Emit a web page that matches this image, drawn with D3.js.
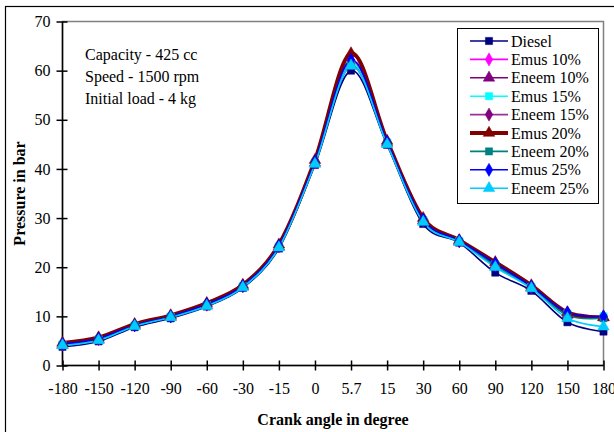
<!DOCTYPE html>
<html>
<head>
<meta charset="utf-8">
<script src="https://cdn.jsdelivr.net/npm/d3@7"></script>
<style>
  body { margin: 0; background: #fff; }
  text { font-family: "Liberation Serif", "Times New Roman", serif; }
</style>
</head>
<body>
<div id="chart"></div>
<script>
// crank angles (categorical axis)
const angles = ["-180", "-150", "-120", "-90", "-60", "-30", "-15", "0", "5.7", "15", "30", "60", "90", "120", "150", "180"];
const yTicks = [0, 10, 20, 30, 40, 50, 60, 70];

// pressure in bar
const diesel  = [3.8, 4.9, 7.8, 9.6, 12.0, 15.8, 23.8, 40.8, 60.0, 44.9, 28.8, 25.0, 18.9, 15.2, 8.8, 6.9];
const emus10  = [4.3, 5.4, 8.2, 10.0, 12.4, 16.2, 24.3, 41.3, 62.0, 45.4, 29.6, 25.3, 20.5, 16.0, 10.5, 9.9];
const eneem10 = [4.2, 5.3, 8.1, 9.9, 12.3, 16.1, 24.2, 41.2, 61.0, 45.3, 29.5, 25.2, 20.4, 15.9, 10.3, 9.8];
const emus15  = [4.2, 5.3, 8.1, 9.9, 12.3, 16.1, 24.2, 41.3, 61.5, 45.4, 29.6, 25.3, 20.6, 16.0, 10.6, 10.0];
const eneem15 = [4.3, 5.4, 8.2, 10.0, 12.4, 16.2, 24.3, 41.4, 62.0, 45.4, 29.6, 25.3, 20.5, 16.0, 10.4, 9.9];
const emus20  = [4.6, 5.7, 8.4, 10.2, 12.7, 16.4, 24.6, 41.8, 63.5, 45.7, 30.0, 25.5, 21.0, 16.3, 10.8, 9.8];
const eneem20 = [4.2, 5.3, 8.1, 9.9, 12.2, 16.0, 24.1, 41.1, 61.0, 45.2, 29.4, 25.2, 20.3, 15.8, 10.2, 9.6];
const emus25  = [4.4, 5.5, 8.2, 10.0, 12.5, 16.2, 24.4, 41.5, 62.2, 45.5, 29.7, 25.4, 20.8, 16.1, 10.8, 10.0];
const eneem25 = [4.1, 5.1, 8.0, 9.8, 12.1, 15.9, 24.0, 41.0, 61.0, 45.0, 29.2, 25.1, 20.0, 15.7, 9.6, 7.9];

const seriesNames = ["Diesel", "Emus 10%", "Eneem 10%", "Emus 15%", "Eneem 15%", "Emus 20%", "Eneem 20%", "Emus 25%", "Eneem 25%"];
const seriesValues = [diesel, emus10, eneem10, emus15, eneem15, emus20, eneem20, emus25, eneem25];
const lineColors = ["#000080", "#ff00ff", "#800080", "#00ffff", "#993399", "#800000", "#008080", "#0000ff", "#00ccff"];
const markerColors = ["#000080", "#ff00ff", "#800080", "#00ffff", "#800080", "#800000", "#008080", "#0000ff", "#00ccff"];
const markers = ["square", "diamond", "triangle", "square", "diamond", "triangle", "square", "diamond", "triangle"];
const notes = ["Capacity - 425 cc", "Speed - 1500 rpm", "Initial load - 4 kg"];

const W = 614, H = 432;
const margin = {top: 21.5, right: 10.5, bottom: 66.5, left: 62.5};

const svg = d3.select("#chart").append("svg")
    .attr("width", W).attr("height", H);

// outer frame
svg.append("rect")
    .attr("x", 5.5).attr("y", 6.5)
    .attr("width", 640).attr("height", 460)
    .attr("fill", "none").attr("stroke", "#000").attr("stroke-width", 1.2);

const x = d3.scalePoint()
    .domain(angles)
    .range([margin.left, W - margin.right]);

const y = d3.scaleLinear()
    .domain([0, 70])
    .range([H - margin.bottom, margin.top]);

// plot area border (grey)
svg.append("rect")
    .attr("x", margin.left).attr("y", margin.top)
    .attr("width", W - margin.right - margin.left)
    .attr("height", H - margin.bottom - margin.top)
    .attr("fill", "none").attr("stroke", "#808080").attr("stroke-width", 1.5);

// y axis
const yAxis = svg.append("g")
    .attr("transform", `translate(${margin.left},0)`)
    .call(d3.axisLeft(y).tickValues(yTicks).tickSize(6).tickSizeOuter(0));
yAxis.selectAll(".tick line").attr("x2", 5).attr("x1", -6);
yAxis.select(".domain").attr("d", `M0,${y(0)}V${y(70)}`);

// x axis
const xAxis = svg.append("g")
    .attr("transform", `translate(0,${y(0)})`)
    .call(d3.axisBottom(x).tickSize(5).tickSizeOuter(0));
xAxis.selectAll(".tick line").attr("y1", -5).attr("y2", 5);
xAxis.select(".domain").attr("d", `M${x("-180")},0H${x("180")}`);

svg.selectAll(".domain, .tick line").attr("stroke", "#000").attr("stroke-width", 1.5);
yAxis.selectAll(".tick text")
    .attr("x", -12).attr("font-size", 16).attr("fill", "#000")
    .attr("font-family", "Liberation Serif");
xAxis.selectAll(".tick text")
    .attr("y", 17).attr("font-size", 16).attr("fill", "#000")
    .attr("font-family", "Liberation Serif");

// axis titles
svg.append("text")
    .attr("x", (x("-180") + x("180")) / 2).attr("y", 425)
    .attr("text-anchor", "middle")
    .attr("font-size", 16).attr("font-weight", "bold")
    .text("Crank angle in degree");

svg.append("text")
    .attr("transform", `translate(25,${(y(0) + y(70)) / 2}) rotate(-90)`)
    .attr("text-anchor", "middle")
    .attr("font-size", 16).attr("font-weight", "bold")
    .text("Pressure in bar");

// notes
svg.append("g").selectAll("text")
    .data(notes).enter()
    .append("text")
    .attr("x", 85)
    .attr("y", (d, i) => 60 + i * 22)
    .attr("font-size", 16)
    .text(d => d);

const line = d3.line()
    .x((d, i) => x(angles[i]))
    .y(d => y(d))
    .curve(d3.curveCardinal.tension(0));

const symbolFor = {
    square: d3.symbol().type(d3.symbolSquare).size(52),
    diamond: d3.symbol().type(d3.symbolDiamond).size(50),
    triangle: d3.symbol().type(d3.symbolTriangle).size(58)
};

// lines
svg.append("g").selectAll("path")
    .data(seriesValues).enter()
    .append("path")
    .attr("d", line)
    .attr("fill", "none")
    .attr("stroke", (d, i) => lineColors[i])
    .attr("stroke-width", (d, i) => i == 5 ? 4 : 1.6);

// markers
seriesValues.forEach((vals, s) => {
    svg.append("g").selectAll("path")
        .data(vals).enter()
        .append("path")
        .attr("transform", (d, i) => `translate(${x(angles[i])},${y(d)})`)
        .attr("d", symbolFor[markers[s]]())
        .attr("fill", markerColors[s])
        .attr("stroke", markerColors[s])
        .attr("stroke-width", 0.5);
});

// legend
const legend = svg.append("g");
legend.append("rect")
    .attr("x", 457.5).attr("y", 28.5)
    .attr("width", 141).attr("height", 175)
    .attr("fill", "#fff").attr("stroke", "#000").attr("stroke-width", 1);

const item = legend.selectAll("g.item")
    .data(seriesNames).enter()
    .append("g").attr("class", "item")
    .attr("transform", (d, i) => `translate(0,${41 + i * 18.4})`);

item.append("line")
    .attr("x1", 470).attr("x2", 508)
    .attr("stroke", (d, i) => lineColors[i])
    .attr("stroke-width", (d, i) => i == 5 ? 4 : 1.6);

item.append("path")
    .attr("transform", "translate(489,0)")
    .attr("d", (d, i) => symbolFor[markers[i]]())
    .attr("fill", (d, i) => markerColors[i])
    .attr("stroke", (d, i) => markerColors[i])
    .attr("stroke-width", 0.5);

item.append("text")
    .attr("x", 511)
    .attr("dy", "0.35em")
    .attr("font-size", 16)
    .text(d => d);
</script>
</body>
</html>
